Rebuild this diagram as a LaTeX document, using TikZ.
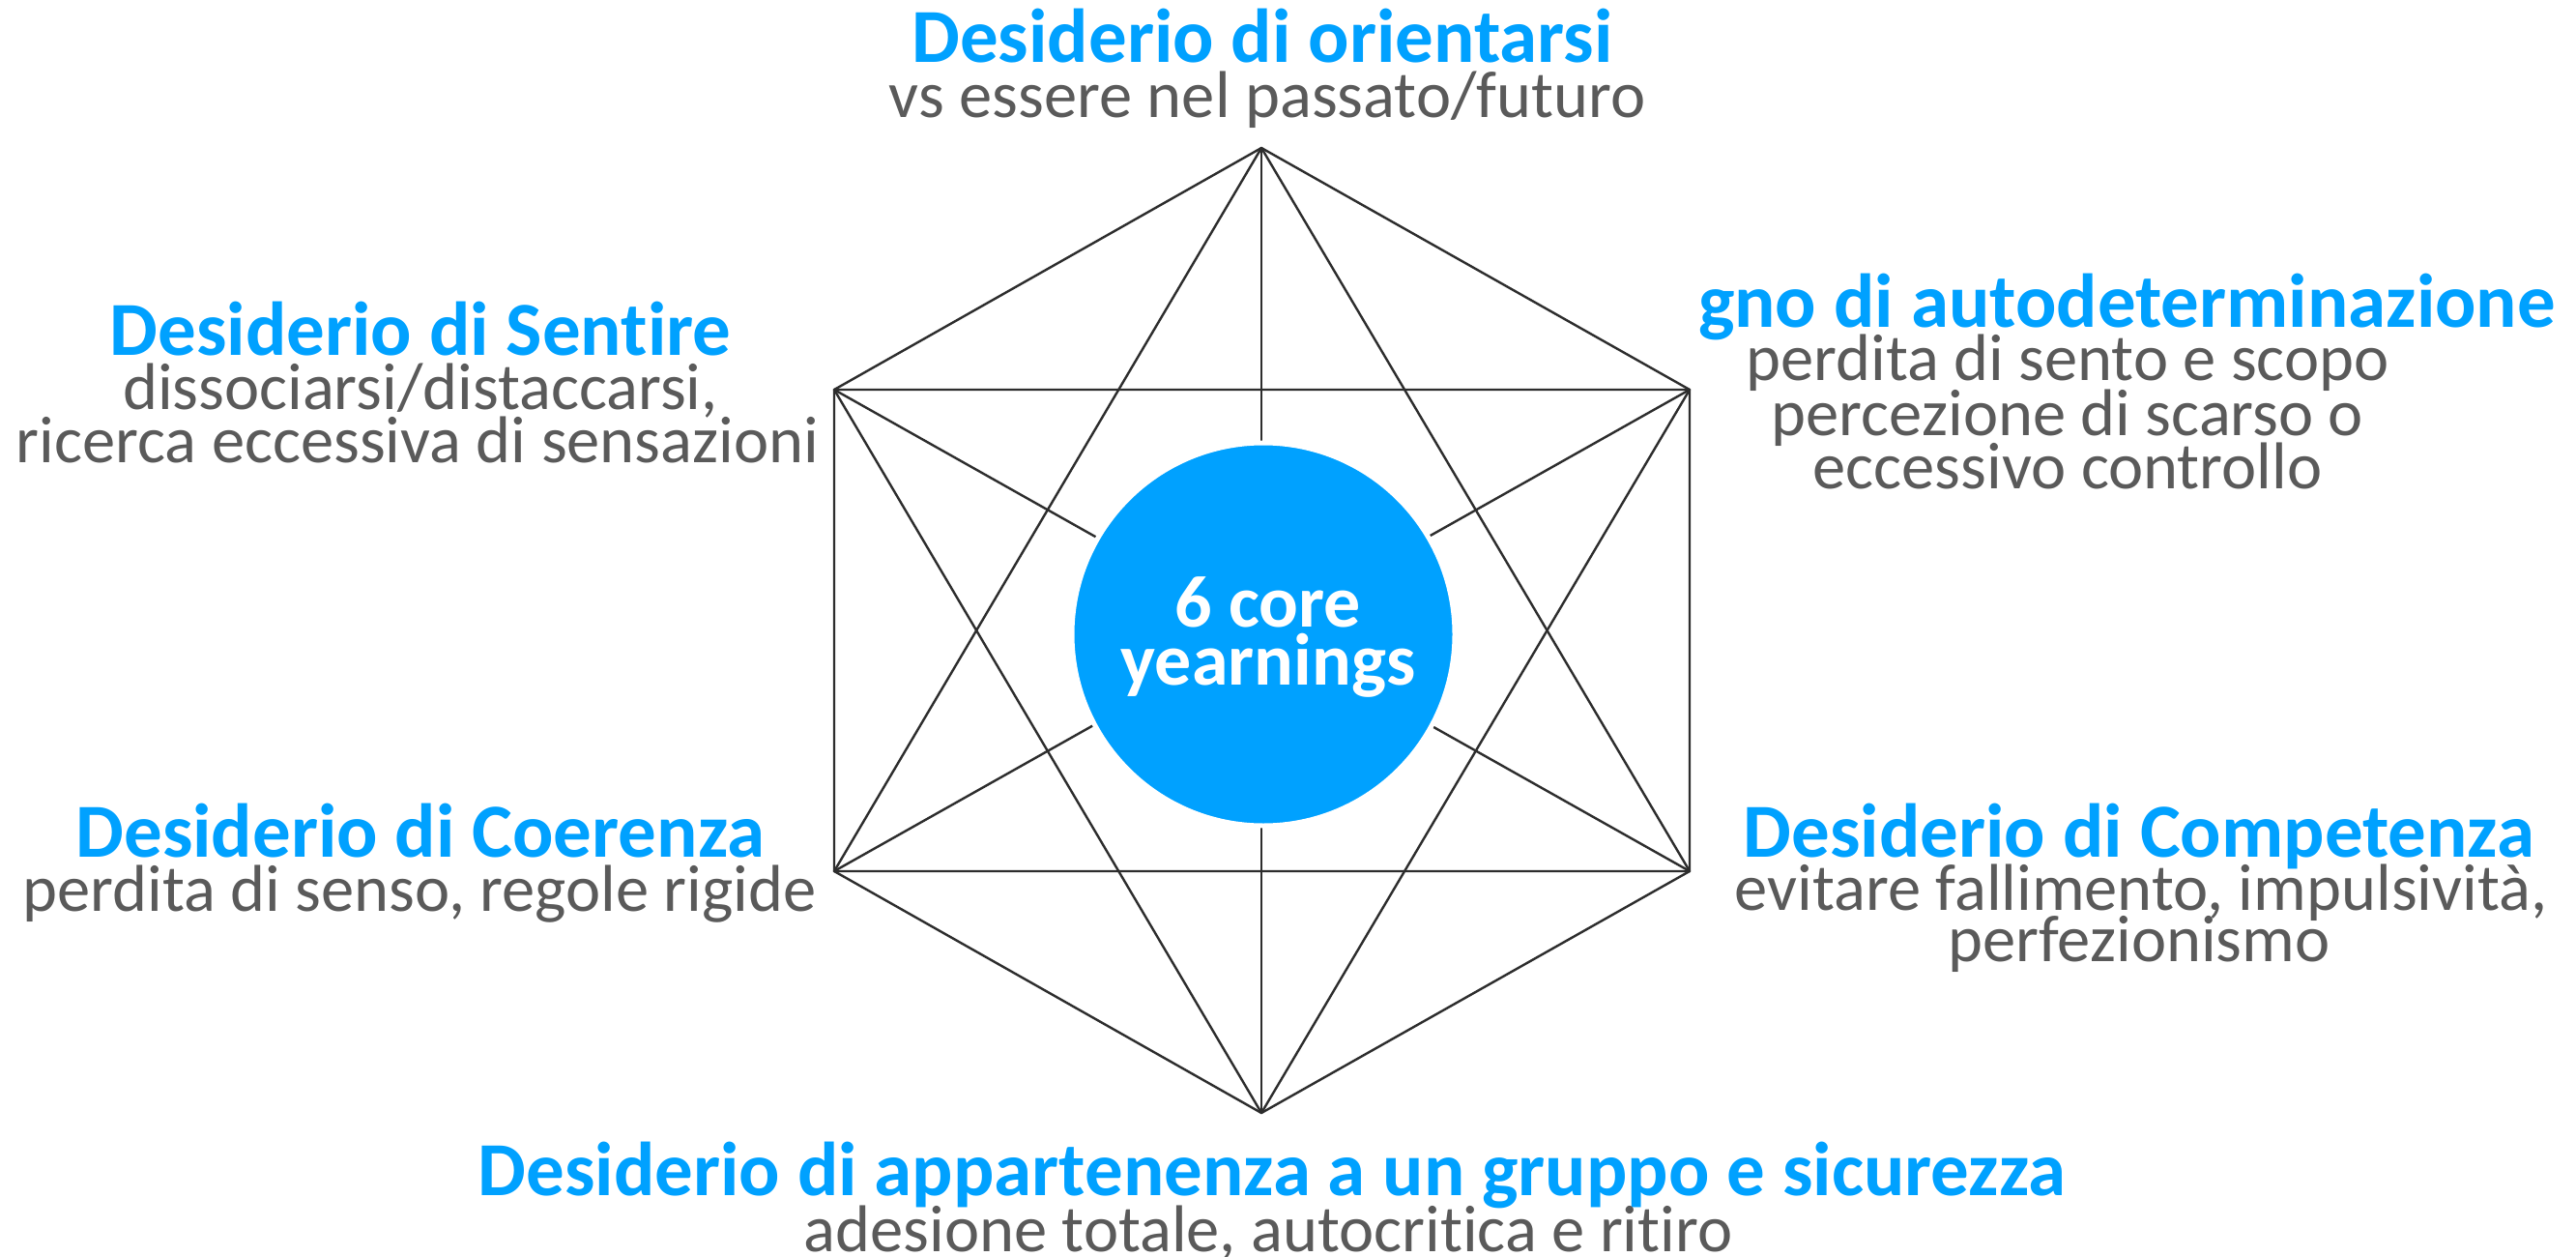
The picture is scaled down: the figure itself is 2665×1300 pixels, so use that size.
\documentclass[tikz,border=0pt]{standalone}
\usepackage{fontspec}
\newfontfamily\carl[Ligatures={NoCommon}]{Carlito}
\definecolor{ybl}{RGB}{0,161,255}
\definecolor{ygr}{RGB}{90,90,90}
\definecolor{yln}{RGB}{45,45,45}
\newcommand\ttlfont{\carl\bfseries\fontsize{79}{79}\selectfont}
\newcommand\subfont{\carl\fontsize{68.5}{68.5}\selectfont}
\newcommand\corefont{\carl\bfseries\fontsize{76}{76}\selectfont}
\tikzset{
  edge/.style={draw=yln, line width=2.4pt, line join=round},
  ttl/.style={font=\ttlfont, text=ybl, anchor=base, inner sep=0pt},
  sub/.style={font=\subfont, text=ygr, anchor=base, inner sep=0pt},
  core/.style={circle, fill=ybl, draw=white, line width=5pt, minimum size=396pt, inner sep=0pt},
  coretxt/.style={font=\corefont, text=white, anchor=base, inner sep=0pt}
}
\begin{document}
\begin{tikzpicture}[x=1pt, y=-1pt]
\path[fill=white, use as bounding box] (0,0) rectangle (2665,1300);
% hexagon vertices
\coordinate (T)  at (1305,153);
\coordinate (UR) at (1748,403);
\coordinate (LR) at (1748,901);
\coordinate (B)  at (1305,1151);
\coordinate (LL) at (863,901);
\coordinate (UL) at (863,403);
% hexagon
\draw[edge] (T) -- (UR) -- (LR) -- (B) -- (LL) -- (UL) -- cycle;
% two triangles
\draw[edge] (T) -- (LR) -- (LL) -- cycle;
\draw[edge] (B) -- (UL) -- (UR) -- cycle;
% long diagonals
\draw[edge] (T) -- (B);
\draw[edge] (UL) -- (LR);
\draw[edge] (UR) -- (LL);
% centre
\node[core] (C) at (1307,656) {};
\node[coretxt] (c1) at (1312,648) {6 core};
\node[coretxt] (c2) at (1312,708) {yearnings};
% top
\node[ttl] (t1) at (1306,65) {Desiderio di orientarsi};
\node[sub] (t2) at (1311,122) {vs essere nel passato/futuro};
% upper left
\node[ttl] (ul1) at (435,367) {Desiderio di Sentire};
\node[sub] (ul2) at (435,423) {dissociarsi/distaccarsi,};
\node[sub] (ul3) at (432,478) {ricerca eccessiva di sensazioni};
% upper right
\node[ttl, anchor=base east] (ur1) at (2644,338) {gno di autodeterminazione};
\node[sub] (ur2) at (2139,393) {perdita di sento e scopo};
\node[sub] (ur3) at (2139,450) {percezione di scarso o};
\node[sub] (ur4) at (2139,505) {eccessivo controllo};
% lower left
\node[ttl] (ll1) at (435,886) {Desiderio di Coerenza};
\node[sub] (ll2) at (434,942) {perdita di senso, regole rigide};
% lower right
\node[ttl] (lr1) at (2213,886) {Desiderio di Competenza};
\node[sub] (lr2) at (2215,941) {evitare fallimento, impulsività,};
\node[sub] (lr3) at (2213,994) {perfezionismo};
% bottom
\node[ttl] (b1) at (1316,1236) {Desiderio di appartenenza a un gruppo e sicurezza};
\node[sub] (b2) at (1312,1294) {adesione totale, autocritica e ritiro};
\end{tikzpicture}
\end{document}
